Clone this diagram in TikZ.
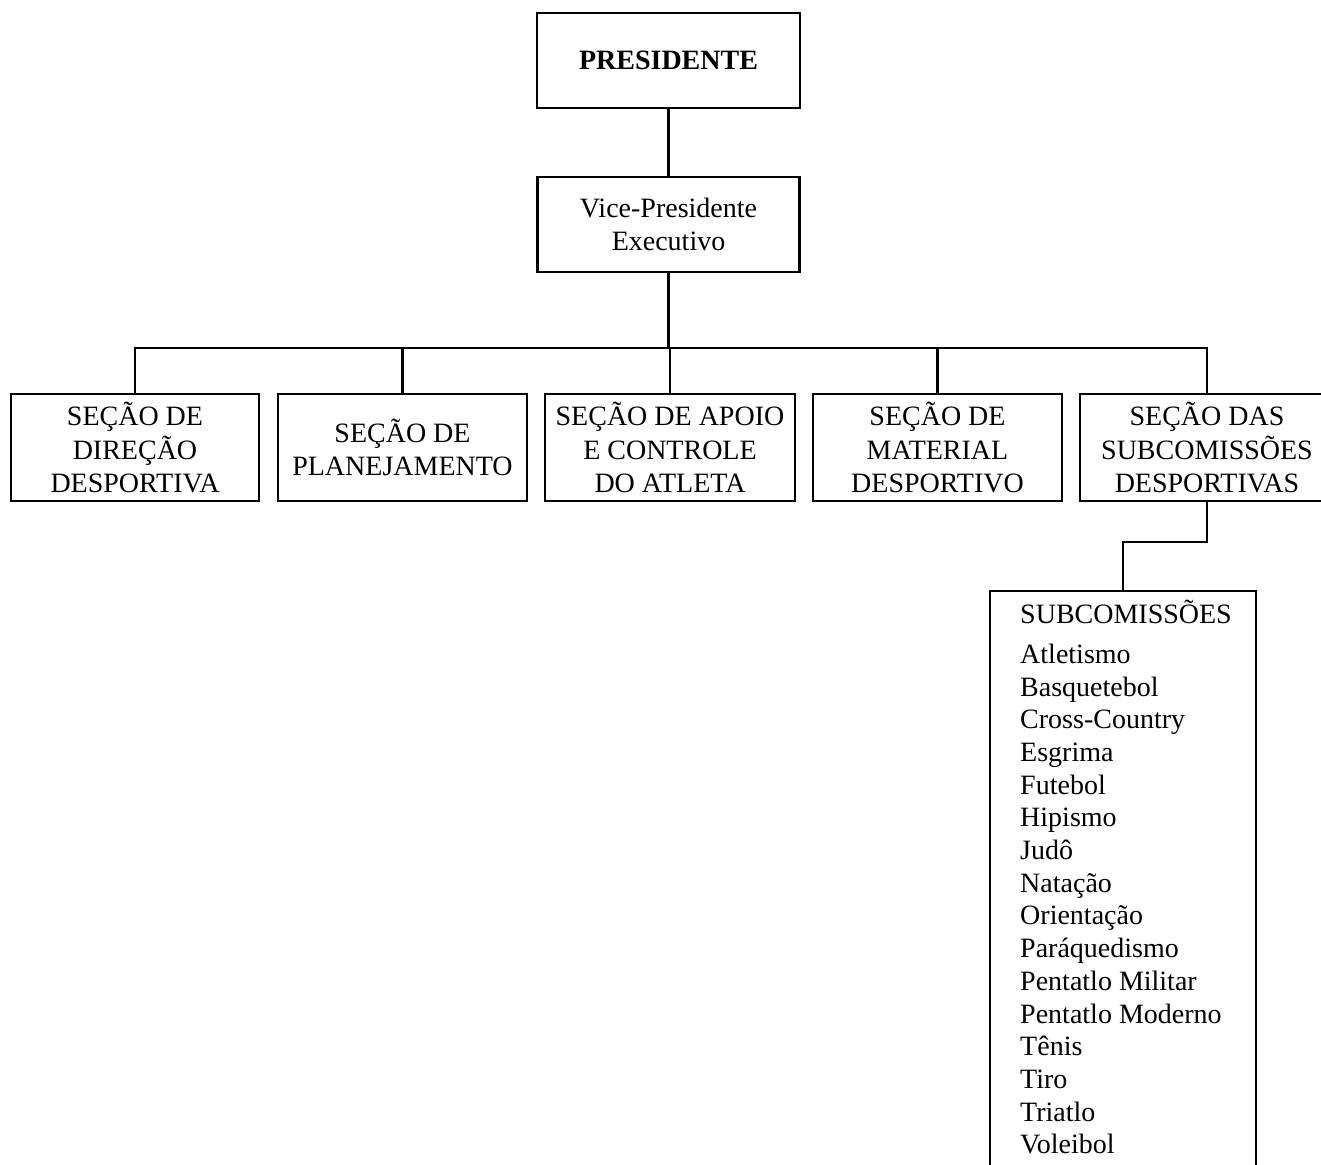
\documentclass[tikz,border=0pt]{standalone}
\usepackage{fontspec}
\setmainfont{Liberation Serif}
\begin{document}
\begin{tikzpicture}[x=1pt,y=-1pt,
  orgbox/.style={draw, line width=2.2pt, inner sep=0pt, align=center,
    font=\fontsize{28}{33.5}\selectfont},
  conn/.style={line width=2.2pt}]
\useasboundingbox (0,0) rectangle (1321,1164);
\clip (0,0) rectangle (1321,1164);
\node[orgbox, minimum width=263, minimum height=95] (pres) at (668.5,60.5) {\textbf{PRESIDENTE}};
\node[orgbox, minimum width=262, minimum height=95] (vice) at (668.5,224.5) {Vice-Presidente\\Executivo};
\node[orgbox, minimum width=248, minimum height=107] (s1) at (135,447.5) {SEÇÃO DE\\DIREÇÃO\\DESPORTIVA};
\node[orgbox, minimum width=249, minimum height=107] (s2) at (402.5,447.5) {SEÇÃO DE\\PLANEJAMENTO};
\node[orgbox, minimum width=250, minimum height=107] (s3) at (670,447.5) {SEÇÃO DE APOIO\\E CONTROLE\\DO ATLETA};
\node[orgbox, minimum width=249, minimum height=107] (s4) at (937.5,447.5) {SEÇÃO DE\\MATERIAL\\DESPORTIVO};
\node[orgbox, minimum width=254, minimum height=107] (s5) at (1207,447.5) {SEÇÃO DAS\\SUBCOMISSÕES\\DESPORTIVAS};
\node[draw, line width=2.2pt, inner sep=0pt, minimum width=266, minimum height=620, anchor=north] (sub) at (1123,590) {};
\node[anchor=north west, inner sep=0pt, align=left, font=\fontsize{28}{32.7}\selectfont] (list) at (1020,600)
 {SUBCOMISSÕES\\[7pt]Atletismo\\Basquetebol\\Cross-Country\\Esgrima\\Futebol\\Hipismo\\Judô\\Natação\\Orientação\\Paráquedismo\\Pentatlo Militar\\Pentatlo Moderno\\Tênis\\Tiro\\Triatlo\\Voleibol};
\draw[conn] (pres.south) -- (vice.north);
\draw[conn] (vice.south) -- ++(0,75) coordinate (j);
\draw[conn] (s1.north) |- (j) -| (s5.north);
\draw[conn] (s2.north) -- (s2.north |- j);
\draw[conn] (s3.north) -- (s3.north |- j);
\draw[conn] (s4.north) -- (s4.north |- j);
\draw[conn] (s5.south) -- ++(0,40) -| (sub.north);
\end{tikzpicture}
\end{document}
